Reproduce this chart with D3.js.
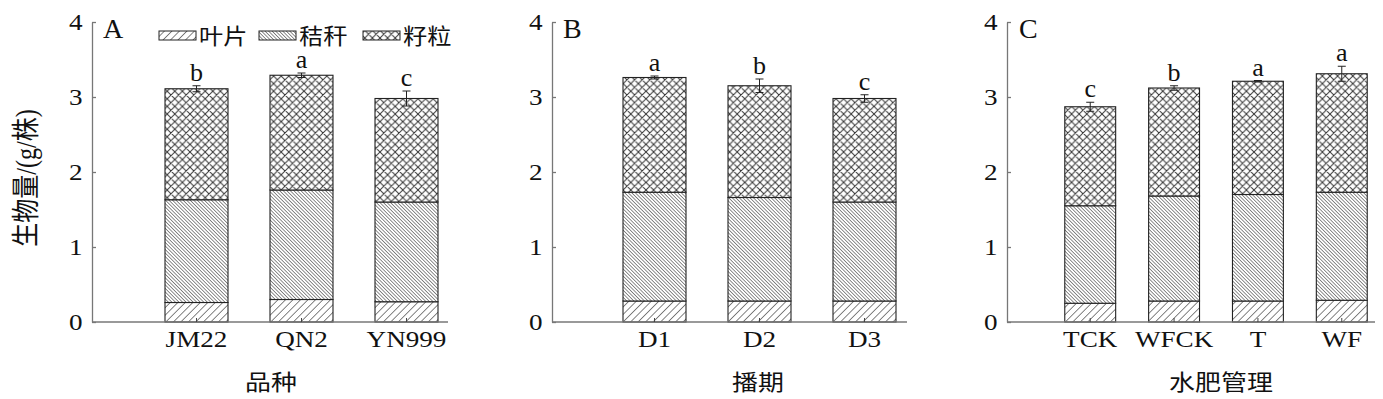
<!DOCTYPE html>
<html>
<head>
<meta charset="utf-8">
<script src="https://cdn.jsdelivr.net/npm/d3@7"></script>
<style>
  body { margin: 0; background: #fff; }
  text { font-family: "Liberation Serif", "Noto Sans CJK SC", serif; fill: #111; }
</style>
</head>
<body>
<svg id="chart" width="1383" height="399"></svg>
<script>
// panel A - varieties
var catsA  = ["JM22", "QN2", "YN999"];
var leafA  = [0.26, 0.30, 0.27];
var stemA  = [1.37, 1.46, 1.33];
var grainA = [1.48, 1.53, 1.38];
var errA   = [0.04, 0.03, 0.10];
var sigA   = ["b", "a", "c"];

// panel B - sowing dates
var catsB  = ["D1", "D2", "D3"];
var leafB  = [0.28, 0.28, 0.28];
var stemB  = [1.45, 1.38, 1.32];
var grainB = [1.53, 1.49, 1.38];
var errB   = [0.02, 0.09, 0.05];
var sigB   = ["a", "b", "c"];

// panel C - water/fertilizer management
var catsC  = ["TCK", "WFCK", "T", "WF"];
var leafC  = [0.25, 0.28, 0.28, 0.29];
var stemC  = [1.30, 1.40, 1.42, 1.44];
var grainC = [1.32, 1.44, 1.51, 1.58];
var errC   = [0.06, 0.03, 0.01, 0.10];
var sigC   = ["c", "b", "a", "a"];

var yTicks = [0, 1, 2, 3, 4];
var partNames = ["叶片", "秸秆", "籽粒"];
var partPatterns = ["pLeaf", "pStem", "pGrain"];

// the original picture is a bit wider than tall, so text gets stretched
var stretch = 1.18;

var svg = d3.select("#chart");

// hatch patterns
var defs = svg.append("defs");
var mkLines = function(id, size, angle, sw){
  var p = defs.append("pattern")
    .attr("id", id)
    .attr("patternUnits", "userSpaceOnUse")
    .attr("width", size).attr("height", size)
    .attr("patternTransform", "rotate(" + angle + ")");
  p.append("rect").attr("width", size).attr("height", size).attr("fill", "#fff");
  p.append("line")
    .attr("x1", 0).attr("y1", 0).attr("x2", 0).attr("y2", size)
    .attr("stroke", "#333").attr("stroke-width", sw);
};
mkLines("pLeaf", 5.3, 45, 1.2);
mkLines("pStem", 2.5, -45, 1.1);
var cross = defs.append("pattern")
  .attr("id", "pGrain")
  .attr("patternUnits", "userSpaceOnUse")
  .attr("width", 7.6).attr("height", 7.6);
cross.append("rect").attr("width", 7.6).attr("height", 7.6).attr("fill", "#fff");
cross.append("path")
  .attr("d", "M0,0L7.6,7.6M7.6,0L0,7.6M-1,1L1,-1M6.6,8.6L8.6,6.6")
  .attr("stroke", "#333").attr("stroke-width", 1).attr("fill", "none");

var yScale = d3.scaleLinear().domain([0, 4]).range([322, 22]);

var panels = [
  {tag: "A", cats: catsA, leaf: leafA, stem: stemA, grain: grainA, err: errA, sig: sigA,
   axisX: 92, axisEnd: 448, band: [144, 459], pad: 0.4, title: "品种", titleX: 271, tagX: 103},
  {tag: "B", cats: catsB, leaf: leafB, stem: stemB, grain: grainB, err: errB, sig: sigB,
   axisX: 552, axisEnd: 907, band: [602, 917], pad: 0.4, title: "播期", titleX: 758, tagX: 563},
  {tag: "C", cats: catsC, leaf: leafC, stem: stemC, grain: grainC, err: errC, sig: sigC,
   axisX: 1007, axisEnd: 1375, band: [1048, 1384], pad: 0.393, title: "水肥管理", titleX: 1221, tagX: 1019}
];

var stretchedText = function(sel, x, y, size, str, anchor){
  return sel.append("text")
    .attr("transform", "translate(" + x + "," + y + ") scale(" + stretch + ",1)")
    .attr("text-anchor", anchor || "start")
    .attr("font-size", size)
    .text(str);
};

var drawPanel = function(p){
  var g = svg.append("g");
  var xScale = d3.scaleBand()
    .domain(p.cats)
    .range(p.band)
    .paddingInner(p.pad)
    .paddingOuter(0.2);

  // stacked data
  var rows = p.cats.map(function(c, i){
    return {cat: c, leaf: p.leaf[i], stem: p.stem[i], grain: p.grain[i], err: p.err[i], sig: p.sig[i]};
  });
  var stack = d3.stack().keys(["leaf", "stem", "grain"]);
  var series = stack(rows);

  series.forEach(function(s, k){
    g.selectAll(null)
      .data(s)
      .enter()
      .append("rect")
      .attr("x", function(d){ return xScale(d.data.cat); })
      .attr("y", function(d){ return yScale(d[1]); })
      .attr("width", xScale.bandwidth())
      .attr("height", function(d){ return yScale(d[0]) - yScale(d[1]); })
      .attr("fill", "url(#" + partPatterns[k] + ")")
      .attr("stroke", "#222")
      .attr("stroke-width", 1.1);
  });

  // error bars + significance letters
  series[2].forEach(function(d){
    var cx = xScale(d.data.cat) + xScale.bandwidth() / 2;
    var hi = yScale(d[1] + d.data.err), lo = yScale(d[1] - d.data.err);
    g.append("line").attr("x1", cx).attr("x2", cx).attr("y1", hi).attr("y2", lo)
      .attr("stroke", "#222").attr("stroke-width", 1);
    [hi, lo].forEach(function(yv){
      g.append("line").attr("x1", cx - 4).attr("x2", cx + 4).attr("y1", yv).attr("y2", yv)
        .attr("stroke", "#222").attr("stroke-width", 1);
    });
    g.append("text")
      .attr("x", cx).attr("y", hi - 5)
      .attr("text-anchor", "middle")
      .attr("font-size", 26)
      .text(d.data.sig);
  });

  // y axis (inward ticks)
  var yAxis = d3.axisLeft(yScale)
    .tickValues(yTicks)
    .tickFormat(d3.format("d"))
    .tickSizeInner(-4).tickSizeOuter(0).tickPadding(8);
  var ya = g.append("g").attr("transform", "translate(" + p.axisX + ",0)").call(yAxis);
  ya.select(".domain").attr("stroke", "#777").attr("stroke-width", 1.3);
  ya.selectAll(".tick line").attr("stroke", "#777").attr("stroke-width", 1.3);
  ya.selectAll(".tick text")
    .attr("font-size", 23)
    .attr("fill", "#111")
    .attr("transform", "scale(" + stretch + ",1)");

  // x axis
  g.append("line")
    .attr("x1", p.axisX).attr("x2", p.axisEnd)
    .attr("y1", yScale(0)).attr("y2", yScale(0))
    .attr("stroke", "#777").attr("stroke-width", 1.3);
  var xAxis = d3.axisBottom(xScale).tickSizeInner(-4).tickSizeOuter(0).tickPadding(9);
  var xa = g.append("g").attr("transform", "translate(0," + yScale(0) + ")").call(xAxis);
  xa.select(".domain").remove();
  xa.selectAll(".tick line").attr("stroke", "#444");
  xa.selectAll(".tick text")
    .attr("font-size", 23)
    .attr("fill", "#111")
    .attr("transform", "scale(" + stretch + ",1)");

  stretchedText(g, p.titleX, 390, 22, p.title, "middle");
  g.append("text")
    .attr("x", p.tagX).attr("y", 38)
    .attr("font-size", 28)
    .text(p.tag);
};

panels.forEach(drawPanel);

// y axis title
svg.append("text")
  .attr("transform", "translate(36,178) rotate(-90) scale(1,1.2)")
  .attr("text-anchor", "middle")
  .attr("font-size", 24)
  .text("生物量/(g/株)");

// legend in panel A
var legX = [159, 259, 363];
var legend = svg.append("g");
partNames.forEach(function(name, i){
  legend.append("rect")
    .attr("x", legX[i]).attr("y", 31)
    .attr("width", 37).attr("height", 9)
    .attr("fill", "url(#" + partPatterns[i] + ")")
    .attr("stroke", "#222").attr("stroke-width", 1);
  legend.append("text")
    .attr("transform", "translate(" + (legX[i] + 40) + ",44) scale(1.1,1)")
    .attr("font-size", 22)
    .text(name);
});
</script>
</body>
</html>
